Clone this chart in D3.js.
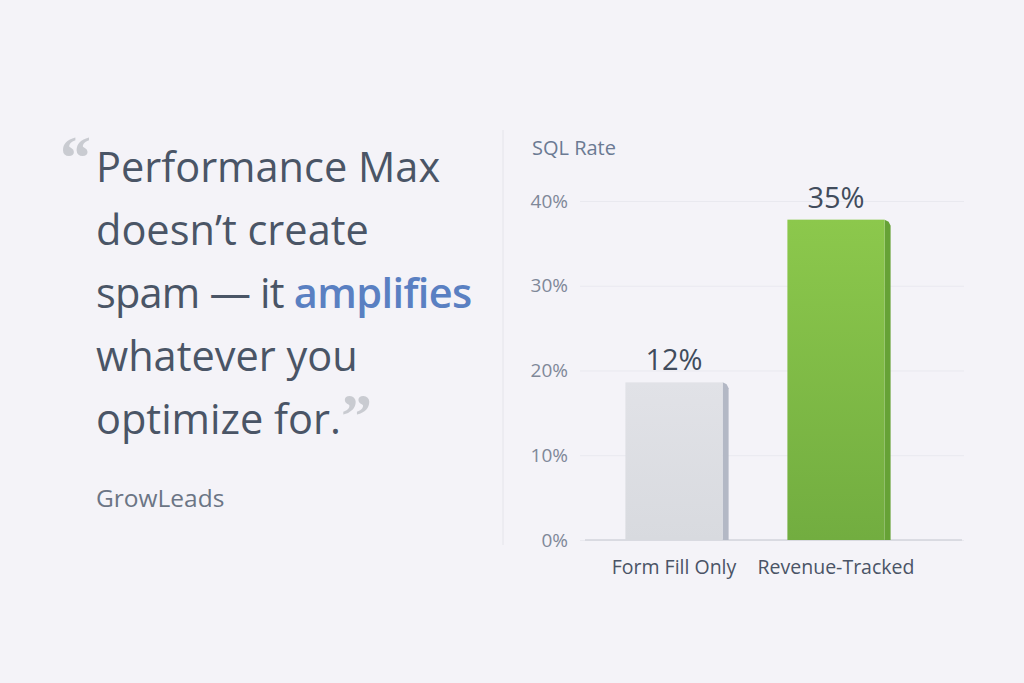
<!DOCTYPE html>
<html>
<head>
<meta charset="utf-8">
<script src="https://cdn.jsdelivr.net/npm/d3@7"></script>
<style>
  body { margin: 0; background: #f4f3f8; }
  svg { display: block; font-family: "Open Sans", sans-serif; }
</style>
</head>
<body>
<div id="chart"></div>
<script>
// data
const categories = ["Form Fill Only", "Revenue-Tracked"];
const barHeights = [18.6, 37.8];          // drawn heights, in % of the axis
const valueLabels = ["12%", "35%"];
const yTicks = [0, 10, 20, 30, 40];
const quoteLines = [
  [["Performance Max", false]],
  [["doesn\u2019t create", false]],
  [["spam \u2014 it ", false], ["amplifies", true]],
  [["whatever you", false]],
  [["optimize for.", false]]
];
const source = "GrowLeads";
const axisTitle = "SQL Rate";

const width = 1024, height = 683;
const margin = {top: 201, bottom: 143, left: 580, right: 60};

const svg = d3.select("#chart").append("svg")
  .attr("width", width).attr("height", height);

svg.append("rect").attr("width", width).attr("height", height).attr("fill", "#f4f3f8");

const defs = svg.append("defs");
const gGrey = defs.append("linearGradient").attr("id", "gGrey")
  .attr("x1", 0).attr("y1", 0).attr("x2", 0).attr("y2", 1);
gGrey.append("stop").attr("offset", 0).attr("stop-color", "#e1e2e7");
gGrey.append("stop").attr("offset", 1).attr("stop-color", "#d8dadf");
const gGreen = defs.append("linearGradient").attr("id", "gGreen")
  .attr("x1", 0).attr("y1", 0).attr("x2", 0).attr("y2", 1);
gGreen.append("stop").attr("offset", 0).attr("stop-color", "#8cc84c");
gGreen.append("stop").attr("offset", 1).attr("stop-color", "#72ad40");

// ---- quote on the left
const lineH = 63;
const quote = svg.append("text")
  .attr("font-size", 41.5).attr("fill", "#4a5566");
quoteLines.forEach((parts, i) => {
  parts.forEach((p, j) => {
    const t = quote.append("tspan").text(p[0]);
    if (j == 0) t.attr("x", 96).attr("y", 182 + i * lineH);
    if (p[1]) t.attr("font-weight", 600).attr("fill", "#5a80c2")
      .attr("letter-spacing", -0.6);
  });
});
// the dash line is a bit tighter in the original
quote.selectAll("tspan").filter(function() { return this.textContent.startsWith("spam"); })
  .attr("letter-spacing", -0.8);

svg.append("text")
  .attr("x", 60).attr("y", 178)
  .attr("font-family", "Liberation Serif, serif").attr("font-weight", 700)
  .attr("font-size", 62).attr("fill", "#c9cbd1")
  .text("\u201C");
svg.append("text")
  .attr("x", 341).attr("y", 436)
  .attr("font-family", "Liberation Serif, serif").attr("font-weight", 700)
  .attr("font-size", 62).attr("fill", "#c9cbd1")
  .text("\u201D");

svg.append("text")
  .attr("x", 96).attr("y", 507)
  .attr("font-size", 24.5).attr("fill", "#6b7585")
  .text(source);

// divider
svg.append("line")
  .attr("x1", 503).attr("x2", 503).attr("y1", 130).attr("y2", 545)
  .attr("stroke", "#e4e4ea").attr("stroke-width", 1);

// ---- chart
const y = d3.scaleLinear().domain([0, 40])
  .range([height - margin.bottom, margin.top]);
const x = d3.scaleBand().domain(categories)
  .range([593, 917]).paddingInner(0.4).paddingOuter(0.2);

svg.append("text")
  .attr("x", 532).attr("y", 155)
  .attr("font-size", 20).attr("fill", "#6b7a93")
  .text(axisTitle);

const grid = svg.append("g")
  .attr("transform", `translate(${margin.left},0)`)
  .call(d3.axisLeft(y).tickValues(yTicks).tickFormat(d => d + "%")
    .tickSize(-(width - margin.left - margin.right)).tickPadding(12));
grid.select(".domain").remove();
grid.selectAll(".tick line").attr("stroke", "#e9e9ef");
grid.selectAll(".tick text")
  .attr("font-size", 19).attr("fill", "#7f8898")
  .attr("font-family", "Open Sans, sans-serif");

svg.append("line")
  .attr("x1", 585).attr("x2", 962)
  .attr("y1", y(0)).attr("y2", y(0))
  .attr("stroke", "#d3d5dc").attr("stroke-width", 1.5);

const side = 6;
const bars = svg.selectAll("g.bar")
  .data(categories)
  .enter().append("g").attr("class", "bar");

bars.append("path")
  .attr("fill", (d, i) => i == 0 ? "#b3b8c5" : "#66a236")
  .attr("d", (d, i) => {
    const x1 = x(d) + x.bandwidth(), top = y(barHeights[i]), bot = y(0);
    return `M${x1},${top} L${x1 + side - 2},${top + 2} L${x1 + side},${top + 6} L${x1 + side},${bot} L${x1},${bot} Z`;
  });

bars.append("rect")
  .attr("x", d => x(d))
  .attr("y", (d, i) => y(barHeights[i]))
  .attr("width", x.bandwidth())
  .attr("height", (d, i) => y(0) - y(barHeights[i]))
  .attr("fill", (d, i) => i == 0 ? "url(#gGrey)" : "url(#gGreen)");

bars.append("text")
  .attr("x", d => x(d) + x.bandwidth() / 2)
  .attr("y", (d, i) => y(barHeights[i]) - 12)
  .attr("text-anchor", "middle")
  .attr("font-size", 29).attr("fill", "#414c5c")
  .text((d, i) => valueLabels[i]);

bars.append("text")
  .attr("x", d => x(d) + x.bandwidth() / 2)
  .attr("y", 574)
  .attr("text-anchor", "middle")
  .attr("font-size", 19.5).attr("fill", "#4a5466")
  .text(d => d);
</script>
</body>
</html>
